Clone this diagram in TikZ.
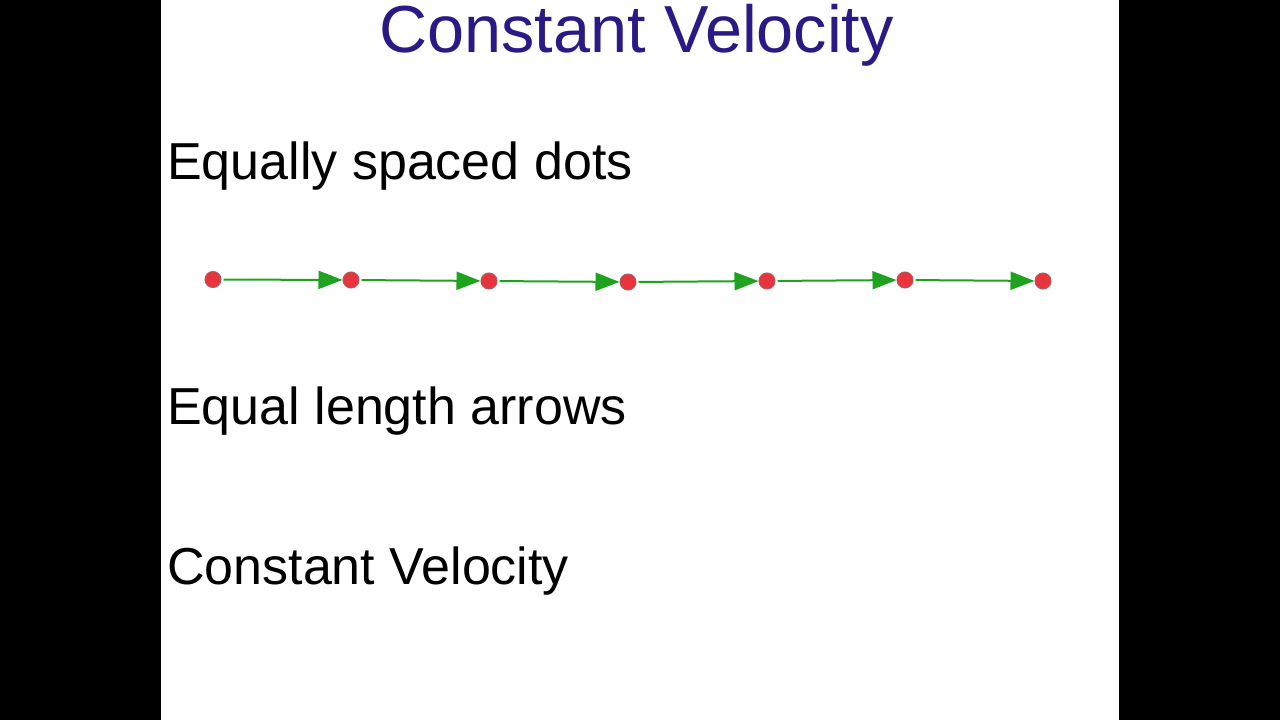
\documentclass[tikz,border=0pt]{standalone}
\usepackage{fontspec}
\setmainfont{Liberation Sans}
\usetikzlibrary{arrows.meta}
\definecolor{titleblue}{HTML}{2B1A86}
\definecolor{dotred}{HTML}{E8343C}
\definecolor{dotrim}{HTML}{B05A5E}
\definecolor{arrgreen}{HTML}{1FA31F}
\begin{document}
\begin{tikzpicture}[x=1pt,y=-1pt,
  dotnode/.style={circle,fill=dotred,draw=dotrim,line width=1pt,minimum size=16pt,inner sep=0pt},
  velarrow/.style={draw=arrgreen,line width=2pt,shorten <=2pt,-{Triangle[length=24pt,width=18pt]}},
  bodytext/.style={anchor=base west,inner sep=0pt,font=\fontsize{52}{60}\selectfont},
  titletext/.style={anchor=base,inner sep=0pt,text=titleblue,font=\fontsize{66.6}{72}\selectfont}]
\useasboundingbox (0,0) rectangle (1280,720);
\fill[black] (0,0) rectangle (161,720);
\fill[black] (1119,0) rectangle (1280,720);
\fill[white] (161,0) rectangle (1119,720);
\node[titletext] (title) at (636.5,52) {Constant Velocity};
\node[bodytext] (t1) at (167,179) {Equally spaced dots};
\node[bodytext] (t2) at (167,424) {Equal length arrows};
\node[bodytext] (t3) at (167,584) {Constant Velocity};
\node[dotnode] (d1) at (213,279.5) {};
\node[dotnode] (d2) at (351,280) {};
\node[dotnode] (d3) at (489,281) {};
\node[dotnode] (d4) at (628,282) {};
\node[dotnode] (d5) at (767,281) {};
\node[dotnode] (d6) at (905,280) {};
\node[dotnode] (d7) at (1043,281) {};
\foreach \a/\b in {d1/d2,d2/d3,d3/d4,d4/d5,d5/d6,d6/d7}
  \draw[velarrow] (\a) -- (\b);
\end{tikzpicture}
\end{document}
